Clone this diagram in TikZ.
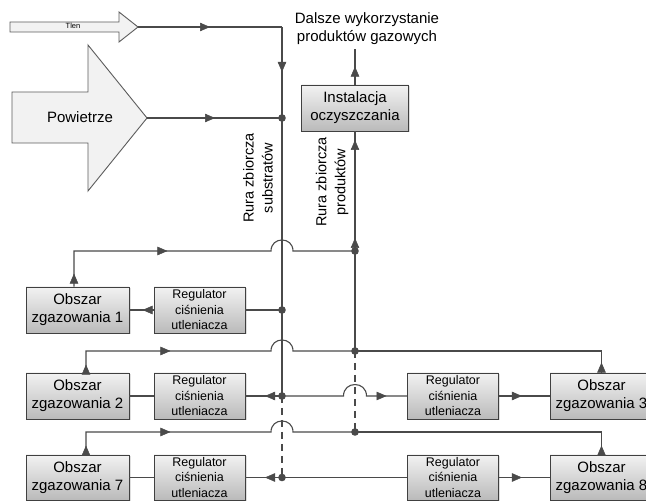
\documentclass[tikz,border=0pt]{standalone}
\usepackage{fontspec}
\setmainfont{Liberation Sans}
\usetikzlibrary{arrows.meta,decorations.markings,shadows,calc}
\definecolor{ln}{HTML}{4A4A4A}
\definecolor{bd}{HTML}{404040}
\definecolor{boxtop}{HTML}{F2F2F2}
\definecolor{boxbot}{HTML}{BABABA}
\definecolor{arfill}{HTML}{F2F2F2}
\begin{document}
\begin{tikzpicture}[x=1pt,y=-1pt,
  pipe/.style={draw=ln, line width=1.1pt},
  dpipe/.style={pipe, dash pattern=on 7pt off 5pt},
  box/.style={draw=bd, line width=0.9pt, top color=boxtop, bottom color=boxbot,
    drop shadow={opacity=0.25, shadow xshift=1.5pt, shadow yshift=-1.5pt},
    align=center, inner sep=0pt, minimum height=46pt},
  bigbox/.style={box, minimum width=103pt, font=\fontsize{15}{18}\selectfont},
  regbox/.style={box, minimum width=91pt, font=\fontsize{12.5}{15.5}\selectfont},
  arr/.style={postaction={decorate,decoration={markings,
    mark=at position #1 with {\arrow[line width=0.5pt]{Triangle[length=10pt,width=8.5pt]}}}}},
  bigarrow/.style={draw=ln!90, line width=0.9pt, fill=arfill},
  lbl/.style={font=\fontsize{15}{18}\selectfont, align=center},
  rlbl/.style={rotate=90, font=\fontsize{14.5}{19}\selectfont, align=center}
]
\fill[white] (0,0) rectangle (646,502);
\useasboundingbox (0,0) rectangle (646,502);

% input arrows
\draw[bigarrow] (10,22) -- (119,22) -- (119,12) -- (138,27) -- (119,42) -- (119,32) -- (10,32) -- cycle;
\node[font=\fontsize{7.5}{9}\selectfont] (tlen) at (73,26) {Tlen};
\coordinate (tlentip) at (138,27);
\draw[bigarrow] (12,92) -- (88,92) -- (88,45) -- (147,118) -- (88,191) -- (88,143) -- (12,143) -- cycle;
\node[font=\fontsize{15}{18}\selectfont] (pow) at (80,117) {Powietrze};
\coordinate (powtip) at (147,118);

% boxes
\node[bigbox, minimum width=107pt] (inst) at (355,108) {Instalacja\\oczyszczania};
\node[lbl] (dal) at (367,29) {Dalsze wykorzystanie\\produktów gazowych};
\node[bigbox] (o1) at (77.5,310) {Obszar\\zgazowania 1};
\node[regbox] (r1) at (199.5,310) {Regulator\\ciśnienia\\utleniacza};
\node[bigbox] (o2) at (77.5,396) {Obszar\\zgazowania 2};
\node[regbox] (r2) at (199.5,396) {Regulator\\ciśnienia\\utleniacza};
\node[regbox] (r3) at (453,396) {Regulator\\ciśnienia\\utleniacza};
\node[bigbox] (o3) at (601.5,396) {Obszar\\zgazowania 3};
\node[bigbox, minimum height=45pt] (o7) at (77.5,477.5) {Obszar\\zgazowania 7};
\node[regbox, minimum height=45pt] (r7) at (199.5,477.5) {Regulator\\ciśnienia\\utleniacza};
\node[regbox, minimum height=45pt] (r8) at (453,477.5) {Regulator\\ciśnienia\\utleniacza};
\node[bigbox, minimum height=45pt] (o8) at (601.5,477.5) {Obszar\\zgazowania 8};

\node[rlbl] (lsub) at (258,178) {Rura zbiorcza\\substratów};
\node[rlbl] (lprod) at (332,182) {Rura zbiorcza\\produktów};

% junctions
\coordinate (s0) at (282,27);
\coordinate (s1) at (282,118);
\coordinate (s2) at (282,310);
\coordinate (s3) at (282,396);
\coordinate (s4) at (282,477.5);
\coordinate (p1) at (355,251);
\coordinate (p2) at (355,351);
\coordinate (p3) at (355,432);

% substrate pipe
\draw[pipe, arr=72pt] (tlentip) -- (s0);
\draw[pipe, arr=45pt] (s0) -- (s1) -- (s3);
\draw[pipe, arr=68pt] (powtip) -- (s1);
\draw[dpipe] (s3) -- (s4);

% product pipe
\draw[pipe, arr=18pt] (inst.north) -- (inst.north |- dal.south);
\draw[pipe, arr=13pt, arr=111pt] (p1) -- (inst.south);
\draw[pipe] (p1) -- (p2);
\draw[dpipe] (p2) -- (p3);

% row 1
\draw[pipe, arr=13pt, arr=129pt] ($(o1.north)+(-3.5,0)$) -- (74,251) -- (271,251)
  .. controls (271,236.3) and (293,236.3) .. (293,251) -- (p1);
\draw[pipe] (s2) -- (r1.east);
\draw[pipe, arr=11pt] (r1.west) -- (o1.east);

% row 2
\draw[pipe, arr=8pt, arr=106pt] ($(o2.north)+(8.5,0)$) -- (86,351) -- (271,351)
  .. controls (271,336.3) and (293,336.3) .. (293,351) -- (p2);
\draw[pipe, arr=10pt] (o3.north) -- (601.5,351) -- (p2);
\draw[pipe] (o2.east) -- (r2.west);
\draw[pipe, arr=17pt] (s3) -- (r2.east);
\draw[pipe, arr=118pt] (s3) -- (343.5,396) .. controls (343.5,380.7) and (366.5,380.7) .. (366.5,396) -- (r3.west);
\draw[pipe, arr=23pt] (r3.east) -- (o3.west);

% row 7
\draw[pipe, arr=9pt, arr=107pt] ($(o7.north)+(8.5,0)$) -- (86,432) -- (271,432)
  .. controls (271,417.3) and (293,417.3) .. (293,432) -- (p3);
\draw[pipe, arr=9pt] (o8.north) -- (601.5,432) -- (p3);
\draw[pipe] (o7.east) -- (r7.west);
\draw[pipe, arr=17pt] (s4) -- (r7.east);
\draw[pipe] (s4) -- (r8.west);
\draw[pipe, arr=23pt] (r8.east) -- (o8.west);

% dots
\foreach \c in {s1,s2,s3,s4,p1,p2,p3} \fill[ln] (\c) circle [radius=3.8pt];
\end{tikzpicture}
\end{document}
